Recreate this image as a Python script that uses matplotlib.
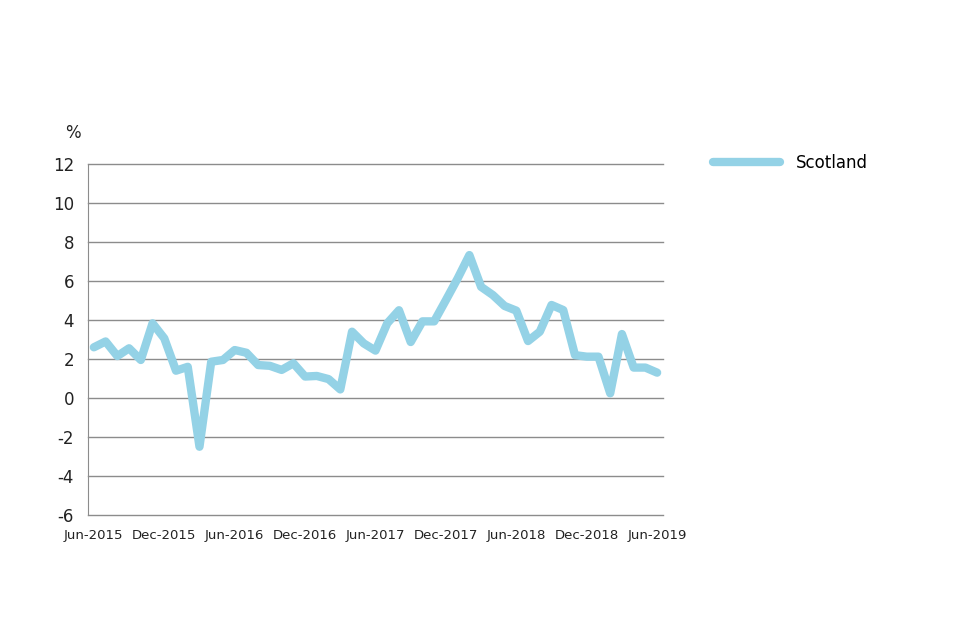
import matplotlib
matplotlib.use("Agg")
import matplotlib.pyplot as plt
import numpy as np

tick_labels = ["Jun-2015", "Dec-2015", "Jun-2016", "Dec-2016", "Jun-2017",
               "Dec-2017", "Jun-2018", "Dec-2018", "Jun-2019"]
scotland = [2.6, 2.9, 2.15, 2.55, 1.95, 3.83, 3.06, 1.4, 1.6, -2.5,
            1.86, 1.95, 2.46, 2.32, 1.69, 1.65, 1.44, 1.78, 1.1, 1.13,
            0.97, 0.44, 3.4, 2.8, 2.43, 3.83, 4.5, 2.87, 3.93, 3.93,
            5.02, 6.13, 7.33, 5.7, 5.28, 4.72, 4.48, 2.92, 3.4, 4.77,
            4.51, 2.2, 2.12, 2.12, 0.24, 3.28, 1.56, 1.56, 1.3]
yticks = [-6, -4, -2, 0, 2, 4, 6, 8, 10, 12]

color = "#94d2e6"
plt.rcParams['font.family'] = ['DejaVu Sans']

fig = plt.figure(figsize=(9.6, 6.4), dpi=100)
ax = fig.add_axes([88/960, 1-515/640, (663-88)/960, (515-164)/640])

x = np.arange(len(scotland))
ax.plot(x, scotland, color=color, lw=6, solid_joinstyle='round',
        solid_capstyle='round', label="Scotland", zorder=3)

ax.set_xlim(-0.5, len(scotland) - 0.5)
ax.set_ylim(-6, 12)
ax.set_yticks(yticks)
ax.set_yticklabels([str(v) for v in yticks], fontsize=12, color="#222222")
ax.set_xticks(np.arange(0, len(scotland), 6))
ax.set_xticklabels(tick_labels, fontsize=9.5, color="#222222")
ax.tick_params(axis='both', length=0)
ax.tick_params(axis='y', pad=10)
ax.tick_params(axis='x', pad=10)
ax.yaxis.grid(True, color="#8c8c8c", lw=1)
for gl in ax.get_ygridlines():
    gl.set_clip_on(False)
ax.set_axisbelow(True)
for s in ["top", "right", "bottom"]:
    ax.spines[s].set_visible(False)
ax.spines["left"].set_color("#8c8c8c")

fig.text(73/960, 1-133/640, "%", fontsize=12, ha='center', va='center', color="#222222")

leg = fig.legend(loc='center left', bbox_to_anchor=(698/960, 1-163/640), frameon=False,
                 fontsize=12, handlelength=4.0, handletextpad=1.0)

fig.savefig("out.png", dpi=100)
